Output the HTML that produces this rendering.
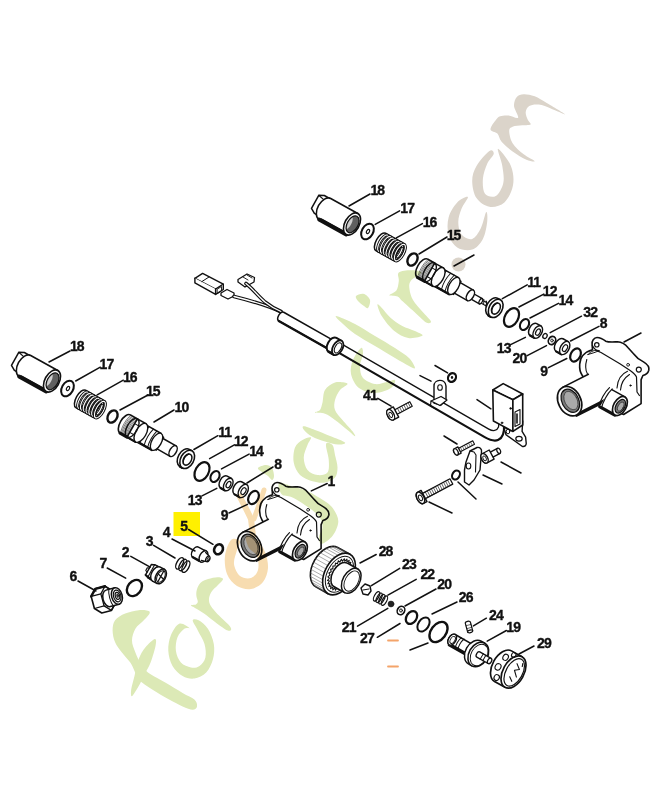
<!DOCTYPE html>
<html><head><meta charset="utf-8"><style>
html,body{margin:0;padding:0;background:#fff;}
body{width:652px;height:800px;overflow:hidden;position:relative;}
svg{position:absolute;left:0;top:0;}
text{font-family:"Liberation Sans",sans-serif;font-weight:bold;font-size:14px;text-anchor:middle;fill:#111;stroke:#111;stroke-width:0.35px;letter-spacing:-0.9px;}
.wm{mix-blend-mode:multiply;}
</style></head><body>
<svg width="652" height="800" viewBox="0 0 652 800">
<defs><clipPath id="clipR"><rect x="0" y="0" width="652" height="800"/></clipPath></defs>
<rect x="173.5" y="512" width="26.5" height="24" fill="#fff000"/>
<g stroke="#111" fill="none" stroke-linecap="round" stroke-linejoin="round">
<g transform="translate(52,381) rotate(29)">
<path d="M-43,-9 L-38,-11.5 L-29,-11.5 L-29,9 L-38,9 L-43,6 Z" fill="#fff" stroke-width="1.5" />
<path d="M-43,-9 L-34,-7 L-29,-9 M-34,-7 L-34,9" fill="none" stroke-width="1.1" />
<path d="M-31,-12 L0,-12 L0,12 L-31,12 A7.2,12 0 0 1 -31,-12 Z" fill="#fff" stroke-width="1.6" />
<path d="M-31,12 L0,12" fill="none" stroke-width="3.8" />
<path d="M-29,10.5 L-2,10.5" fill="none" stroke-width="1.5" />
<ellipse cx="0" cy="0" rx="7.2" ry="12" fill="#fff" stroke-width="1.6" />
<ellipse cx="0.6" cy="0" rx="5.4" ry="9.2" fill="#606060" stroke-width="1.2" />
<path d="M-2.5,-6 C-4.5,-2 -4.5,3 -2,7 C0,3 0,-2 -2.5,-6 Z" fill="#cfcfcf" stroke-width="0" />
</g>
<g transform="translate(67.5,388.5) rotate(29)">
<ellipse cx="0" cy="0" rx="5.6" ry="8.4" fill="#fff" stroke-width="2.0" />
</g>
<g transform="translate(68,388.5) rotate(29)">
<ellipse cx="0" cy="0" rx="1.4" ry="2.2" fill="none" stroke-width="1.1" />
</g>
<g transform="translate(90.3,404.3) rotate(29)">
<path d="M-11,-10 L11,-10 L11,10 L-11,10 A4.6,10 0 0 1 -11,-10 Z" fill="#fff" stroke-width="1.5" />
<ellipse cx="-8.24" cy="0" rx="3.68" ry="9.2" fill="none" stroke-width="3.0" />
<ellipse cx="-8.24" cy="0" rx="3.68" ry="9.2" fill="none" stroke-width="1.1" stroke="#fff"/>
<ellipse cx="-5.03" cy="0" rx="3.68" ry="9.2" fill="none" stroke-width="3.0" />
<ellipse cx="-5.03" cy="0" rx="3.68" ry="9.2" fill="none" stroke-width="1.1" stroke="#fff"/>
<ellipse cx="-1.83" cy="0" rx="3.68" ry="9.2" fill="none" stroke-width="3.0" />
<ellipse cx="-1.83" cy="0" rx="3.68" ry="9.2" fill="none" stroke-width="1.1" stroke="#fff"/>
<ellipse cx="1.38" cy="0" rx="3.68" ry="9.2" fill="none" stroke-width="3.0" />
<ellipse cx="1.38" cy="0" rx="3.68" ry="9.2" fill="none" stroke-width="1.1" stroke="#fff"/>
<ellipse cx="4.59" cy="0" rx="3.68" ry="9.2" fill="none" stroke-width="3.0" />
<ellipse cx="4.59" cy="0" rx="3.68" ry="9.2" fill="none" stroke-width="1.1" stroke="#fff"/>
<ellipse cx="7.79" cy="0" rx="3.68" ry="9.2" fill="none" stroke-width="3.0" />
<ellipse cx="7.79" cy="0" rx="3.68" ry="9.2" fill="none" stroke-width="1.1" stroke="#fff"/>
<ellipse cx="11" cy="0" rx="3.68" ry="9.2" fill="none" stroke-width="3.0" />
<ellipse cx="11" cy="0" rx="3.68" ry="9.2" fill="none" stroke-width="1.1" stroke="#fff"/>
<ellipse cx="11" cy="0" rx="2.53" ry="6" fill="none" stroke-width="1.0" />
</g>
<g transform="translate(112.5,416.5) rotate(29)">
<ellipse cx="0" cy="0" rx="4.6" ry="6.5" fill="#fff" stroke-width="2.4" />
</g>
<g transform="translate(300,-157)">
<g transform="translate(52,381) rotate(29)">
<path d="M-43,-9 L-38,-11.5 L-29,-11.5 L-29,9 L-38,9 L-43,6 Z" fill="#fff" stroke-width="1.5" />
<path d="M-43,-9 L-34,-7 L-29,-9 M-34,-7 L-34,9" fill="none" stroke-width="1.1" />
<path d="M-31,-12 L0,-12 L0,12 L-31,12 A7.2,12 0 0 1 -31,-12 Z" fill="#fff" stroke-width="1.6" />
<path d="M-31,12 L0,12" fill="none" stroke-width="3.8" />
<path d="M-29,10.5 L-2,10.5" fill="none" stroke-width="1.5" />
<ellipse cx="0" cy="0" rx="7.2" ry="12" fill="#fff" stroke-width="1.6" />
<ellipse cx="0.6" cy="0" rx="5.4" ry="9.2" fill="#606060" stroke-width="1.2" />
<path d="M-2.5,-6 C-4.5,-2 -4.5,3 -2,7 C0,3 0,-2 -2.5,-6 Z" fill="#cfcfcf" stroke-width="0" />
</g>
<g transform="translate(67.5,388.5) rotate(29)">
<ellipse cx="0" cy="0" rx="5.6" ry="8.4" fill="#fff" stroke-width="2.0" />
</g>
<g transform="translate(68,388.5) rotate(29)">
<ellipse cx="0" cy="0" rx="1.4" ry="2.2" fill="none" stroke-width="1.1" />
</g>
<g transform="translate(90.3,404.3) rotate(29)">
<path d="M-11,-10 L11,-10 L11,10 L-11,10 A4.6,10 0 0 1 -11,-10 Z" fill="#fff" stroke-width="1.5" />
<ellipse cx="-8.24" cy="0" rx="3.68" ry="9.2" fill="none" stroke-width="3.0" />
<ellipse cx="-8.24" cy="0" rx="3.68" ry="9.2" fill="none" stroke-width="1.1" stroke="#fff"/>
<ellipse cx="-5.03" cy="0" rx="3.68" ry="9.2" fill="none" stroke-width="3.0" />
<ellipse cx="-5.03" cy="0" rx="3.68" ry="9.2" fill="none" stroke-width="1.1" stroke="#fff"/>
<ellipse cx="-1.83" cy="0" rx="3.68" ry="9.2" fill="none" stroke-width="3.0" />
<ellipse cx="-1.83" cy="0" rx="3.68" ry="9.2" fill="none" stroke-width="1.1" stroke="#fff"/>
<ellipse cx="1.38" cy="0" rx="3.68" ry="9.2" fill="none" stroke-width="3.0" />
<ellipse cx="1.38" cy="0" rx="3.68" ry="9.2" fill="none" stroke-width="1.1" stroke="#fff"/>
<ellipse cx="4.59" cy="0" rx="3.68" ry="9.2" fill="none" stroke-width="3.0" />
<ellipse cx="4.59" cy="0" rx="3.68" ry="9.2" fill="none" stroke-width="1.1" stroke="#fff"/>
<ellipse cx="7.79" cy="0" rx="3.68" ry="9.2" fill="none" stroke-width="3.0" />
<ellipse cx="7.79" cy="0" rx="3.68" ry="9.2" fill="none" stroke-width="1.1" stroke="#fff"/>
<ellipse cx="11" cy="0" rx="3.68" ry="9.2" fill="none" stroke-width="3.0" />
<ellipse cx="11" cy="0" rx="3.68" ry="9.2" fill="none" stroke-width="1.1" stroke="#fff"/>
<ellipse cx="11" cy="0" rx="2.53" ry="6" fill="none" stroke-width="1.0" />
</g>
<g transform="translate(112.5,416.5) rotate(29)">
<ellipse cx="0" cy="0" rx="4.6" ry="6.5" fill="#fff" stroke-width="2.4" />
</g>
</g>
<g transform="translate(128.7,426) rotate(29.5)">
<path d="M36,-6 L51,-6 L51,6 L36,6 A3.3,6 0 0 1 36,-6 Z" fill="#fff" stroke-width="1.5" />
<ellipse cx="51" cy="0" rx="3.3" ry="6" fill="#fff" stroke-width="1.5" />
<path d="M32,-7.5 L36,-7.5 L36,7.5 L32,7.5 A3.75,7.5 0 0 1 32,-7.5 Z" fill="#fff" stroke-width="1.3" />
<path d="M14,-9.5 L32,-9.5 L32,9.5 L14,9.5 A4.75,9.5 0 0 1 14,-9.5 Z" fill="#fff" stroke-width="1.5" />
<path d="M14,9.5 L32,9.5" fill="none" stroke-width="2.4" />
<path d="M18,-9.5 C16.5,-4 16.5,4 18,9.5 M23,-9.5 C21.5,-4 21.5,4 23,9.5 M27,-9.5 C25.5,-4 25.5,4 27,9.5" fill="none" stroke-width="1.0" />
<ellipse cx="32" cy="0" rx="4.75" ry="9.5" fill="#fff" stroke-width="1.4" />
<path d="M4,-10.5 L14,-10.5 L14,10.5 L4,10.5 A5.25,10.5 0 0 1 4,-10.5 Z" fill="#fff" stroke-width="1.5" />
<path d="M4,10.5 L14,10.5" fill="none" stroke-width="2.0" />
<path d="M4,-5 L14,-5 M4,5 L14,5" fill="none" stroke-width="1.0" />
<ellipse cx="14" cy="0" rx="5.25" ry="10.5" fill="#fff" stroke-width="1.4" />
<path d="M-4,-10.5 L4,-10.5 L4,10.5 L-4,10.5 A5.25,10.5 0 0 1 -4,-10.5 Z" fill="#fff" stroke-width="1.6" />
<path d="M-4,10.5 L4,10.5" fill="none" stroke-width="3.0" />
<path d="M-3.5,-10.5 C-5.8,-5 -5.8,5 -3.5,10.5" fill="none" stroke-width="0.5" />
<path d="M-2.3,-10.5 C-4.6,-5 -4.6,5 -2.3,10.5" fill="none" stroke-width="0.5" />
<path d="M-1.1,-10.5 C-3.4,-5 -3.4,5 -1.1,10.5" fill="none" stroke-width="0.5" />
<path d="M0.1,-10.5 C-2.2,-5 -2.2,5 0.1,10.5" fill="none" stroke-width="0.5" />
<path d="M1.3,-10.5 C-1,-5 -1,5 1.3,10.5" fill="none" stroke-width="0.5" />
<path d="M2.5,-10.5 C0.2,-5 0.2,5 2.5,10.5" fill="none" stroke-width="0.5" />
<path d="M3.7,-10.5 C1.4,-5 1.4,5 3.7,10.5" fill="none" stroke-width="0.5" />
<path d="M4.9,-10.5 C2.6,-5 2.6,5 4.9,10.5" fill="none" stroke-width="0.5" />
<ellipse cx="4" cy="0" rx="5.25" ry="10.5" fill="none" stroke-width="1.4" />
</g>
<g transform="translate(297.3,-155.8)">
<g transform="translate(128.7,426) rotate(29.5)">
<path d="M62,-1.5 L70,-1.5 L70,1.5 L62,1.5 A0.75,1.5 0 0 1 62,-1.5 Z" fill="#fff" stroke-width="1.0" />
<ellipse cx="70" cy="0" rx="0.75" ry="1.5" fill="#fff" stroke-width="1.0" />
<path d="M63,-1.5 L65,-3 L67,1.5 M66,-1.5 L68,-3 L70,1.5" fill="none" stroke-width="0.9" />
<path d="M50,-3 L63,-3 L63,3 L50,3 A1.5,3 0 0 1 50,-3 Z" fill="#fff" stroke-width="1.3" />
<ellipse cx="63" cy="0" rx="1.5" ry="3" fill="#fff" stroke-width="1.3" />
<path d="M36,-6 L51,-6 L51,6 L36,6 A3.3,6 0 0 1 36,-6 Z" fill="#fff" stroke-width="1.5" />
<ellipse cx="51" cy="0" rx="3.3" ry="6" fill="#fff" stroke-width="1.5" />
<path d="M32,-7.5 L36,-7.5 L36,7.5 L32,7.5 A3.75,7.5 0 0 1 32,-7.5 Z" fill="#fff" stroke-width="1.3" />
<path d="M14,-9.5 L32,-9.5 L32,9.5 L14,9.5 A4.75,9.5 0 0 1 14,-9.5 Z" fill="#fff" stroke-width="1.5" />
<path d="M14,9.5 L32,9.5" fill="none" stroke-width="2.4" />
<path d="M18,-9.5 C16.5,-4 16.5,4 18,9.5 M23,-9.5 C21.5,-4 21.5,4 23,9.5 M27,-9.5 C25.5,-4 25.5,4 27,9.5" fill="none" stroke-width="1.0" />
<ellipse cx="32" cy="0" rx="4.75" ry="9.5" fill="#fff" stroke-width="1.4" />
<path d="M4,-10.5 L14,-10.5 L14,10.5 L4,10.5 A5.25,10.5 0 0 1 4,-10.5 Z" fill="#fff" stroke-width="1.5" />
<path d="M4,10.5 L14,10.5" fill="none" stroke-width="2.0" />
<path d="M4,-5 L14,-5 M4,5 L14,5" fill="none" stroke-width="1.0" />
<ellipse cx="14" cy="0" rx="5.25" ry="10.5" fill="#fff" stroke-width="1.4" />
<path d="M-4,-10.5 L4,-10.5 L4,10.5 L-4,10.5 A5.25,10.5 0 0 1 -4,-10.5 Z" fill="#fff" stroke-width="1.6" />
<path d="M-4,10.5 L4,10.5" fill="none" stroke-width="3.0" />
<path d="M-3.5,-10.5 C-5.8,-5 -5.8,5 -3.5,10.5" fill="none" stroke-width="0.5" />
<path d="M-2.3,-10.5 C-4.6,-5 -4.6,5 -2.3,10.5" fill="none" stroke-width="0.5" />
<path d="M-1.1,-10.5 C-3.4,-5 -3.4,5 -1.1,10.5" fill="none" stroke-width="0.5" />
<path d="M0.1,-10.5 C-2.2,-5 -2.2,5 0.1,10.5" fill="none" stroke-width="0.5" />
<path d="M1.3,-10.5 C-1,-5 -1,5 1.3,10.5" fill="none" stroke-width="0.5" />
<path d="M2.5,-10.5 C0.2,-5 0.2,5 2.5,10.5" fill="none" stroke-width="0.5" />
<path d="M3.7,-10.5 C1.4,-5 1.4,5 3.7,10.5" fill="none" stroke-width="0.5" />
<path d="M4.9,-10.5 C2.6,-5 2.6,5 4.9,10.5" fill="none" stroke-width="0.5" />
<ellipse cx="4" cy="0" rx="5.25" ry="10.5" fill="none" stroke-width="1.4" />
</g>
</g>
<g transform="translate(186.5,459) rotate(29)">
<path d="M-2.2,-9.8 L0.8,-9.8 L0.8,9.8 L-2.2,9.8 A6.47,9.8 0 0 1 -2.2,-9.8 Z" fill="#fff" stroke-width="1.6" />
<path d="M-2.2,9.8 L0.8,9.8" fill="none" stroke-width="2.2" />
<ellipse cx="0.8" cy="0" rx="6.5" ry="9.8" fill="#fff" stroke-width="1.6" />
<ellipse cx="1.1" cy="0" rx="3.9" ry="6" fill="#fff" stroke-width="1.5" />
<path d="M-0.5,-5.6 C-3,-2 -3,2 -0.5,5.6" fill="none" stroke-width="1.2" />
</g>
<g transform="translate(202,471.5) rotate(29)">
<ellipse cx="0" cy="0" rx="6.6" ry="10" fill="none" stroke-width="2.2" />
</g>
<g transform="translate(215,476.5) rotate(29)">
<ellipse cx="0" cy="0" rx="4.2" ry="5.8" fill="none" stroke-width="2.1" />
</g>
<g transform="translate(226.5,483.5) rotate(29)">
<path d="M-3,-6.8 L2,-6.8 L2,6.8 L-3,6.8 A4.08,6.8 0 0 1 -3,-6.8 Z" fill="#fff" stroke-width="1.5" />
<path d="M-3,6.8 L2,6.8" fill="none" stroke-width="2.2" />
<ellipse cx="2" cy="0" rx="4.08" ry="6.8" fill="#fff" stroke-width="1.4" />
<ellipse cx="2.3" cy="0" rx="2.04" ry="3.4" fill="#fff" stroke-width="1.2" />
</g>
<g transform="translate(241.5,490) rotate(29)">
<path d="M-4,-7.2 L2,-7.2 L2,7.2 L-4,7.2 A4.32,7.2 0 0 1 -4,-7.2 Z" fill="#fff" stroke-width="1.5" />
<path d="M-4,7.2 L2,7.2" fill="none" stroke-width="2.2" />
<ellipse cx="2" cy="0" rx="4.32" ry="7.2" fill="#fff" stroke-width="1.4" />
<ellipse cx="2.3" cy="0" rx="2.16" ry="3.6" fill="#fff" stroke-width="1.2" />
</g>
<g transform="translate(253.5,497.5) rotate(29)">
<ellipse cx="0" cy="0" rx="4.8" ry="7" fill="none" stroke-width="2.2" />
</g>
<g transform="translate(495,308) rotate(29)">
<path d="M-2.2,-9.8 L0.8,-9.8 L0.8,9.8 L-2.2,9.8 A6.47,9.8 0 0 1 -2.2,-9.8 Z" fill="#fff" stroke-width="1.6" />
<path d="M-2.2,9.8 L0.8,9.8" fill="none" stroke-width="2.2" />
<ellipse cx="0.8" cy="0" rx="6.5" ry="9.8" fill="#fff" stroke-width="1.6" />
<ellipse cx="1.1" cy="0" rx="3.9" ry="6" fill="#fff" stroke-width="1.5" />
<path d="M-0.5,-5.6 C-3,-2 -3,2 -0.5,5.6" fill="none" stroke-width="1.2" />
</g>
<g transform="translate(511.5,317.5) rotate(29)">
<ellipse cx="0" cy="0" rx="6.6" ry="10" fill="none" stroke-width="2.2" />
</g>
<g transform="translate(524.5,324.5) rotate(29)">
<ellipse cx="0" cy="0" rx="4.2" ry="5.8" fill="none" stroke-width="2.1" />
</g>
<g transform="translate(536,331) rotate(29)">
<path d="M-3,-6.8 L2,-6.8 L2,6.8 L-3,6.8 A4.08,6.8 0 0 1 -3,-6.8 Z" fill="#fff" stroke-width="1.5" />
<path d="M-3,6.8 L2,6.8" fill="none" stroke-width="2.2" />
<ellipse cx="2" cy="0" rx="4.08" ry="6.8" fill="#fff" stroke-width="1.4" />
<ellipse cx="2.3" cy="0" rx="2.04" ry="3.4" fill="#fff" stroke-width="1.2" />
</g>
<g transform="translate(545,336) rotate(29)">
<ellipse cx="0" cy="0" rx="2" ry="2.6" fill="none" stroke-width="1.3" />
</g>
<g transform="translate(552,340.5) rotate(29)">
<ellipse cx="0" cy="0" rx="3.5" ry="4.3" fill="#fff" stroke-width="1.7" />
</g>
<ellipse cx="552" cy="340.5" rx="1.3" ry="1.5" fill="none" stroke-width="0.9" />
<g transform="translate(563,347) rotate(29)">
<path d="M-4,-7.2 L2,-7.2 L2,7.2 L-4,7.2 A4.32,7.2 0 0 1 -4,-7.2 Z" fill="#fff" stroke-width="1.5" />
<path d="M-4,7.2 L2,7.2" fill="none" stroke-width="2.2" />
<ellipse cx="2" cy="0" rx="4.32" ry="7.2" fill="#fff" stroke-width="1.4" />
<ellipse cx="2.3" cy="0" rx="2.16" ry="3.6" fill="#fff" stroke-width="1.2" />
</g>
<g transform="translate(575.5,355) rotate(29)">
<ellipse cx="0" cy="0" rx="4.8" ry="7" fill="none" stroke-width="2.2" />
</g>
<g transform="translate(0,0)">
<path d="M272.1,489.5 C271.5,486 274,482.5 277,482.5 C279.5,482.5 283,484 285.7,486.2 C289,487.5 293,487 297.5,486.8 C301,487 305,489 308.1,492.7 L314,499.2 C316,502 318.5,504.5 323.5,506.9 C327,509 329.5,512 328.8,515.2 C328,518 325,520 322.9,520.5 L321.1,524.6 L321.1,548.6 L303.6,559.5 L280,549 L262,520 C260,517 259.5,512 259.7,509.2 C260,502 265,497 272.5,494.8 Z" fill="#fff" stroke-width="1.6" />
<path d="M272.3,490.2 C273.5,493.5 277,496 281,497.5 L299.9,508.7 L310.5,515.7 C313,517.5 315.5,519.5 316.5,522 L317,537 L319.4,540.5" fill="none" stroke-width="1.2" />
<path d="M297,533 C297.5,525 301,519 307.5,516.2 M300.5,535 C301,528 304,523 309.5,519.5" fill="none" stroke-width="1.1" />
<path d="M266.8,504.5 C265.2,510 265.3,515 267.4,518.7" fill="none" stroke-width="1.1" />
<path d="M268,499.5 C271,496 275,494.6 279.5,495.6 C276,497 272,498.5 268,499.5 Z" fill="none" stroke-width="1.0" />
<ellipse cx="276.8" cy="489.8" rx="2.2" ry="2.2" fill="#fff" stroke-width="1.2" />
<ellipse cx="318.8" cy="514.6" rx="2.5" ry="2.5" fill="#fff" stroke-width="1.2" />
<ellipse cx="308.1" cy="509.8" rx="1.4" ry="1.4" fill="#fff" stroke-width="0.9" />
<ellipse cx="310.5" cy="530.5" rx="0.8" ry="0.8" fill="#111" stroke-width="0.5" />
<g transform="translate(249.6,546.2) rotate(-27)">
<path d="M0,-15.5 L30,-15.5 L30,15.5 L0,15.5 Z" fill="#fff" stroke-width="0" />
<path d="M0,-15.5 L29,-15.5" fill="none" stroke-width="1.5" />
<path d="M0,15.5 L33,15.5" fill="none" stroke-width="3.6" />
<ellipse cx="0" cy="0" rx="11.2" ry="15.5" fill="#fff" stroke-width="1.7" />
<ellipse cx="0.8" cy="0" rx="8.4" ry="12.3" fill="#7a7a7a" stroke-width="1.2" />
<ellipse cx="1.5" cy="0" rx="6.2" ry="9.8" fill="#a9a9a9" stroke-width="0.5" />
</g>
<g transform="translate(299.9,551) rotate(29)">
<path d="M-17,-10.4 L0,-10.4 L0,10.4 L-17,10.4 Z" fill="#fff" stroke-width="0" />
<path d="M-15,-10.4 L0,-10.4" fill="none" stroke-width="1.4" />
<path d="M-17,10.4 L0,10.4" fill="none" stroke-width="3.2" />
<path d="M-15,-11.2 C-17,-5 -17,5 -15,11.2 M-18,-11 C-20,-5 -20,5 -18,11" fill="none" stroke-width="1.2" />
<ellipse cx="0" cy="0" rx="6.3" ry="10.4" fill="#fff" stroke-width="1.7" />
<ellipse cx="0.5" cy="0" rx="4.4" ry="7.4" fill="#777" stroke-width="1.2" />
<ellipse cx="1" cy="0" rx="2.6" ry="5" fill="#aaa" stroke-width="0.6" />
</g>
</g>
<g clip-path="url(#clipR)">
<g transform="translate(320,-145)">
<path d="M272.1,489.5 C271.5,486 274,482.5 277,482.5 C279.5,482.5 283,484 285.7,486.2 C289,487.5 293,487 297.5,486.8 C301,487 305,489 308.1,492.7 L314,499.2 C316,502 318.5,504.5 323.5,506.9 C327,509 329.5,512 328.8,515.2 C328,518 325,520 322.9,520.5 L321.1,524.6 L321.1,548.6 L303.6,559.5 L280,549 L262,520 C260,517 259.5,512 259.7,509.2 C260,502 265,497 272.5,494.8 Z" fill="#fff" stroke-width="1.6" />
<path d="M272.3,490.2 C273.5,493.5 277,496 281,497.5 L299.9,508.7 L310.5,515.7 C313,517.5 315.5,519.5 316.5,522 L317,537 L319.4,540.5" fill="none" stroke-width="1.2" />
<path d="M297,533 C297.5,525 301,519 307.5,516.2 M300.5,535 C301,528 304,523 309.5,519.5" fill="none" stroke-width="1.1" />
<path d="M266.8,504.5 C265.2,510 265.3,515 267.4,518.7" fill="none" stroke-width="1.1" />
<path d="M268,499.5 C271,496 275,494.6 279.5,495.6 C276,497 272,498.5 268,499.5 Z" fill="none" stroke-width="1.0" />
<ellipse cx="276.8" cy="489.8" rx="2.2" ry="2.2" fill="#fff" stroke-width="1.2" />
<ellipse cx="318.8" cy="514.6" rx="2.5" ry="2.5" fill="#fff" stroke-width="1.2" />
<ellipse cx="308.1" cy="509.8" rx="1.4" ry="1.4" fill="#fff" stroke-width="0.9" />
<ellipse cx="310.5" cy="530.5" rx="0.8" ry="0.8" fill="#111" stroke-width="0.5" />
<g transform="translate(249.6,546.2) rotate(-27)">
<path d="M0,-15.5 L30,-15.5 L30,15.5 L0,15.5 Z" fill="#fff" stroke-width="0" />
<path d="M0,-15.5 L29,-15.5" fill="none" stroke-width="1.5" />
<path d="M0,15.5 L33,15.5" fill="none" stroke-width="3.6" />
<ellipse cx="0" cy="0" rx="11.2" ry="15.5" fill="#fff" stroke-width="1.7" />
<ellipse cx="0.8" cy="0" rx="8.4" ry="12.3" fill="#7a7a7a" stroke-width="1.2" />
<ellipse cx="1.5" cy="0" rx="6.2" ry="9.8" fill="#a9a9a9" stroke-width="0.5" />
</g>
<g transform="translate(299.9,551) rotate(29)">
<path d="M-17,-10.4 L0,-10.4 L0,10.4 L-17,10.4 Z" fill="#fff" stroke-width="0" />
<path d="M-15,-10.4 L0,-10.4" fill="none" stroke-width="1.4" />
<path d="M-17,10.4 L0,10.4" fill="none" stroke-width="3.2" />
<path d="M-15,-11.2 C-17,-5 -17,5 -15,11.2 M-18,-11 C-20,-5 -20,5 -18,11" fill="none" stroke-width="1.2" />
<ellipse cx="0" cy="0" rx="6.3" ry="10.4" fill="#fff" stroke-width="1.7" />
<ellipse cx="0.5" cy="0" rx="4.4" ry="7.4" fill="#777" stroke-width="1.2" />
<ellipse cx="1" cy="0" rx="2.6" ry="5" fill="#aaa" stroke-width="0.6" />
</g>
</g>
</g>
<g transform="translate(218.5,549.3) rotate(29)">
<ellipse cx="0" cy="0" rx="4.2" ry="5.2" fill="none" stroke-width="2.6" />
</g>
<g transform="translate(203.5,556.5) rotate(29)">
<path d="M-9,-5.8 L-2,-5.8 L-2,5.8 L-9,5.8 A3.48,5.8 0 0 1 -9,-5.8 Z" fill="#fff" stroke-width="1.5" />
<path d="M-9,5.8 L-2,5.8" fill="none" stroke-width="2.4" />
<path d="M-2,-6.2 L0,-6.2 L0,6.2 L-2,6.2 Z" fill="#fff" stroke-width="1.3" />
<ellipse cx="0" cy="0" rx="3.7" ry="6.2" fill="#fff" stroke-width="1.4" />
<path d="M0,-4.5 L5,-3 L5,3 L0,4.5" fill="#fff" stroke-width="1.3" />
<ellipse cx="5" cy="0" rx="1.9" ry="3" fill="#fff" stroke-width="1.3" />
<ellipse cx="5.3" cy="0" rx="0.9" ry="1.5" fill="none" stroke-width="0.9" />
</g>
<g transform="translate(182.8,565) rotate(29)">
<ellipse cx="-3.5" cy="0" rx="3" ry="6.3" fill="#fff" stroke-width="1.4" />
<ellipse cx="0" cy="0" rx="3" ry="6.3" fill="none" stroke-width="1.4" />
<ellipse cx="3.5" cy="0" rx="3" ry="6.3" fill="none" stroke-width="1.4" />
</g>
<g transform="translate(159,575.5) rotate(29)">
<path d="M-12,-6 L-8,-7.5 L-3,-7.5 L-3,7.5 L-8,7.5 L-12,6 Z" fill="#fff" stroke-width="1.4" />
<path d="M-12,-2 L-14,-1 L-14,2 L-12,3 M-9,-7.5 L-9,7.5 M-6,-7.5 L-6,7.5" fill="none" stroke-width="1.1" />
<path d="M-12,6 L-3,7.5" fill="none" stroke-width="2.0" />
<path d="M-3,-8 L2,-8 L2,8 L-3,8 A4.8,8 0 0 1 -3,-8 Z" fill="#fff" stroke-width="1.5" />
<ellipse cx="2" cy="0" rx="4.8" ry="8" fill="#fff" stroke-width="1.5" />
<ellipse cx="2.2" cy="0" rx="3.6" ry="6.3" fill="none" stroke-width="1.0" />
<path d="M-1.5,-1 L5.5,1 M2,-6.3 L2,6.3" fill="none" stroke-width="1.3" />
</g>
<g transform="translate(134.4,588) rotate(39)">
<ellipse cx="0" cy="0" rx="6.6" ry="8.9" fill="none" stroke-width="2.4" />
</g>
<g transform="translate(116.9,596) rotate(-15)">
<path d="M-19,12.5 L-24.95,6.25 L-24.95,-6.25 L-19,-12.5 L-9,-12.5 L-3.05,-6.25 L-3.05,6.25 L-9,12.5 Z" fill="#fff" stroke-width="1.6" />
<path d="M-3.05,6.25 L-9,12.5 L-14.95,6.25 L-14.95,-6.25 L-9,-12.5 L-3.05,-6.25 Z" fill="none" stroke-width="1.3" />
<path d="M-14.95,6.25 L-24.95,6.25" fill="none" stroke-width="1.2" />
<path d="M-14.95,-6.25 L-24.95,-6.25" fill="none" stroke-width="1.2" />
<path d="M-9,-12.5 L-19,-12.5" fill="none" stroke-width="1.2" />
<path d="M-24.95,-6.25 L-19,-12.5 L-9,-12.5" fill="none" stroke-width="2.4" />
<path d="M-9,-8.5 L0,-8.5 L0,8.5 L-9,8.5 A5.27,8.5 0 0 1 -9,-8.5 Z" fill="#fff" stroke-width="1.5" />
<path d="M-6,-8.8 C-8,-4 -8,4 -6,8.8" fill="none" stroke-width="1.0" />
<ellipse cx="0" cy="0" rx="5.3" ry="8.5" fill="#fff" stroke-width="1.5" />
<ellipse cx="0.3" cy="0" rx="3.7" ry="6" fill="none" stroke-width="1.2" />
<ellipse cx="0.6" cy="0" rx="2.2" ry="3.6" fill="#fff" stroke-width="1.2" />
<ellipse cx="0.8" cy="0" rx="1" ry="1.8" fill="#444" stroke-width="0.6" />
</g>
<g transform="translate(339,574) rotate(29)">
<path d="M-14,-22.5 L0,-22.5 L0,22.5 L-14,22.5 A14,22.5 0 0 1 -14,-22.5 Z" fill="#fff" stroke-width="1.6" />
<path d="M-15.22,22.41 L-2.22,22.41" fill="none" stroke-width="0.5" stroke="#666"/>
<path d="M-17.62,21.73 L-4.62,21.73" fill="none" stroke-width="0.5" stroke="#666"/>
<path d="M-19.92,20.39 L-6.92,20.39" fill="none" stroke-width="0.5" stroke="#666"/>
<path d="M-22.03,18.43 L-9.03,18.43" fill="none" stroke-width="0.5" stroke="#666"/>
<path d="M-23.9,15.91 L-10.9,15.91" fill="none" stroke-width="0.5" stroke="#666"/>
<path d="M-25.47,12.91 L-12.47,12.91" fill="none" stroke-width="0.5" stroke="#666"/>
<path d="M-26.69,9.51 L-13.69,9.51" fill="none" stroke-width="0.5" stroke="#666"/>
<path d="M-27.52,5.82 L-14.52,5.82" fill="none" stroke-width="0.5" stroke="#666"/>
<path d="M-27.95,1.96 L-14.95,1.96" fill="none" stroke-width="0.5" stroke="#666"/>
<path d="M-27.95,-1.96 L-14.95,-1.96" fill="none" stroke-width="0.5" stroke="#666"/>
<path d="M-27.52,-5.82 L-14.52,-5.82" fill="none" stroke-width="0.5" stroke="#666"/>
<path d="M-26.69,-9.51 L-13.69,-9.51" fill="none" stroke-width="0.5" stroke="#666"/>
<path d="M-25.47,-12.91 L-12.47,-12.91" fill="none" stroke-width="0.5" stroke="#666"/>
<path d="M-23.9,-15.91 L-10.9,-15.91" fill="none" stroke-width="0.5" stroke="#666"/>
<path d="M-22.03,-18.43 L-9.03,-18.43" fill="none" stroke-width="0.5" stroke="#666"/>
<path d="M-19.92,-20.39 L-6.92,-20.39" fill="none" stroke-width="0.5" stroke="#666"/>
<path d="M-17.62,-21.73 L-4.62,-21.73" fill="none" stroke-width="0.5" stroke="#666"/>
<path d="M-15.22,-22.41 L-2.22,-22.41" fill="none" stroke-width="0.5" stroke="#666"/>
<ellipse cx="0" cy="0" rx="14" ry="22.5" fill="#fff" stroke-width="1.6" />
<ellipse cx="0.5" cy="0" rx="12" ry="19.5" fill="none" stroke-width="1.0" />
<path d="M11.54,0 L9.92,1.75 L11.23,4.07 L9.41,5.14 L10.33,7.9 L8.4,8.24 L8.89,11.27 L6.96,10.85 L6.99,13.99 L5.18,12.84 L4.74,15.9 L3.15,14.08 L2.27,16.88 L1,14.5 L-0.27,16.88 L-1.15,14.08 L-2.74,15.9 L-3.18,12.84 L-4.99,13.99 L-4.96,10.85 L-6.89,11.27 L-6.4,8.24 L-8.33,7.9 L-7.41,5.14 L-9.23,4.07 L-7.92,1.75 L-9.54,-0 L-7.92,-1.75 L-9.23,-4.07 L-7.41,-5.14 L-8.33,-7.9 L-6.4,-8.24 L-6.89,-11.27 L-4.96,-10.85 L-4.99,-13.99 L-3.18,-12.84 L-2.74,-15.9 L-1.15,-14.08 L-0.27,-16.88 L1,-14.5 L2.27,-16.88 L3.15,-14.08 L4.74,-15.9 L5.18,-12.84 L6.99,-13.99 L6.96,-10.85 L8.89,-11.27 L8.4,-8.24 L10.33,-7.9 L9.41,-5.14 L11.23,-4.07 L9.92,-1.75 Z" fill="none" stroke-width="1.1" />
<path d="M2,-13.5 L14,-13.5 L14,13.5 L2,13.5 A8.37,13.5 0 0 1 2,-13.5 Z" fill="#fff" stroke-width="1.5" />
<ellipse cx="14" cy="0" rx="8.4" ry="13.5" fill="#fff" stroke-width="1.5" />
<ellipse cx="14.5" cy="0" rx="6.5" ry="11" fill="none" stroke-width="0.9" />
</g>
<path d="M361,588 L365,584 L370,586 L371,591 L368,595 L363,594 Z" fill="#fff" stroke-width="1.4" />
<path d="M363,590 L369,589" fill="none" stroke-width="1" />
<g transform="translate(380.5,598.5) rotate(29)">
<ellipse cx="-4.5" cy="0" rx="2.2" ry="5.2" fill="none" stroke-width="1.2" />
<ellipse cx="-1.5" cy="0" rx="2.2" ry="5.2" fill="none" stroke-width="1.2" />
<ellipse cx="1.5" cy="0" rx="2.2" ry="5.2" fill="none" stroke-width="1.2" />
<ellipse cx="4.5" cy="0" rx="2.2" ry="5.2" fill="none" stroke-width="1.2" />
</g>
<ellipse cx="391" cy="604" rx="3" ry="3" fill="#222" stroke-width="0.5" />
<g transform="translate(401,610.5) rotate(29)">
<ellipse cx="0" cy="0" rx="3.6" ry="4.4" fill="#fff" stroke-width="1.6" />
</g>
<ellipse cx="401" cy="610.5" rx="1.4" ry="1.6" fill="none" stroke-width="1" />
<g transform="translate(411.5,617.5) rotate(34)">
<ellipse cx="0" cy="0" rx="5" ry="7" fill="none" stroke-width="2.3" />
</g>
<g transform="translate(423.5,624.5) rotate(34)">
<ellipse cx="0" cy="0" rx="5.2" ry="7.8" fill="none" stroke-width="2.0" />
</g>
<g transform="translate(438.5,632) rotate(37)">
<ellipse cx="0" cy="0" rx="7.5" ry="11.3" fill="none" stroke-width="2.4" />
</g>
<line x1="388" y1="640.5" x2="398" y2="640.5" stroke="#f4a46a" stroke-width="1.8"/>
<line x1="388" y1="666.5" x2="398" y2="666.5" stroke="#f4a46a" stroke-width="1.8"/>
<g transform="translate(469,627) rotate(75)">
<path d="M-4.5,-2.6 L4.5,-2.6 L4.5,2.6 L-4.5,2.6 A1.3,2.6 0 0 1 -4.5,-2.6 Z" fill="#fff" stroke-width="1.2" />
<ellipse cx="4.5" cy="0" rx="1.3" ry="2.6" fill="#fff" stroke-width="1.2" />
<path d="M-2,-2.6 L-2,2.6 M1,-2.6 L1,2.6" fill="none" stroke-width="0.6" />
</g>
<g transform="translate(452.2,639.7) rotate(29.6)">
<path d="M0,-6 L27,-6 L27,6 L0,6 A3.72,6 0 0 1 0,-6 Z" fill="#fff" stroke-width="1.5" />
<path d="M0,6 L27,6" fill="none" stroke-width="3.0" />
<path d="M4,5 L24,5" fill="none" stroke-width="2.2" />
<path d="M7,-6.3 C5.5,-3 5.5,3 7,6.3 M10,-6.5 C8.5,-3 8.5,3 10,6.5" fill="none" stroke-width="1.0" />
<ellipse cx="0" cy="0" rx="3.7" ry="6" fill="#fff" stroke-width="1.4" />
<ellipse cx="0.5" cy="0" rx="2.2" ry="3.8" fill="none" stroke-width="0.9" />
<path d="M26,-13 L30,-13 L30,13 L26,13 A9.36,13 0 0 1 26,-13 Z" fill="#fff" stroke-width="1.5" />
<ellipse cx="30" cy="0" rx="9.4" ry="13" fill="#fff" stroke-width="1.6" />
<ellipse cx="31" cy="0" rx="8" ry="11.5" fill="none" stroke-width="0.9" />
<path d="M30,-3 L43,-3 L43,3 L30,3 A1.8,3 0 0 1 30,-3 Z" fill="#fff" stroke-width="1.3" />
<path d="M34,-3.3 L34,3.3 M37,-3.3 L37,3.3" fill="none" stroke-width="1.0" />
<ellipse cx="43" cy="0" rx="1.9" ry="3" fill="#fff" stroke-width="1.3" />
</g>
<g transform="translate(513.5,672) rotate(29)">
<path d="M-12,-17.5 L0,-17.5 L0,17.5 L-12,17.5 A10.5,17.5 0 0 1 -12,-17.5 Z" fill="#fff" stroke-width="1.7" />
<ellipse cx="0" cy="0" rx="10.5" ry="17.5" fill="#fff" stroke-width="1.7" />
<ellipse cx="0.8" cy="0" rx="8.3" ry="15" fill="none" stroke-width="1.2" />
<path d="M-1,-9 L4,-5 L0,-2 L5,3 M-1,6 L3,9 M4,-12 L5,-9" fill="none" stroke-width="1.1" />
<ellipse cx="-14" cy="-9" rx="2.6" ry="3.2" fill="none" stroke-width="1.1" />
<ellipse cx="-16" cy="3" rx="2.8" ry="3.4" fill="none" stroke-width="1.1" />
<ellipse cx="-12" cy="13" rx="2.6" ry="3" fill="none" stroke-width="1.1" />
<ellipse cx="-8" cy="-15" rx="2.2" ry="2.4" fill="none" stroke-width="1.1" />
</g>
<path d="M194.9,278.3 L202.6,273.4 L223.3,284.1 L215.6,289 Z" fill="#fff" stroke-width="1.4" />
<path d="M194.9,278.3 L194.9,282.9 L215.6,294.4 L215.6,289" fill="#fff" stroke-width="1.4" />
<path d="M215.6,294.4 L223.3,289.5 L223.3,284.1" fill="#fff" stroke-width="1.4" />
<path d="M202,281.5 L209,277" fill="none" stroke-width="1.0" />
<path d="M217.5,289 L221.5,286.5 L221.5,291 L217.5,293.5 Z" fill="none" stroke-width="0.9" />
<path d="M221,293 L227,289.5 L234,293 L234,296 L228,299 L221,295.5 Z" fill="#fff" stroke-width="1.3" />
<path d="M238,279.5 L247,274 L254.5,277.5 L254,282 L245,287 L238,282 Z" fill="#fff" stroke-width="1.3" />
<path d="M243,277 L248,280 M247,275 L252,278" fill="none" stroke-width="0.9" />
<path d="M234,296.5 C252,301 267,305 281,312" fill="none" stroke-width="3.6" />
<path d="M234,296.5 C252,301 267,305 281,312" fill="none" stroke-width="1.3" stroke="#fff"/>
<path d="M246,283.5 C253,289 258,296 265,302 C270,306 276,309.5 281,311.5" fill="none" stroke-width="3.6" />
<path d="M246,283.5 C253,289 258,296 265,302 C270,306 276,309.5 281,311.5" fill="none" stroke-width="1.3" stroke="#fff"/>
<g transform="translate(279.5,315.6) rotate(29.5)">
<path d="M2,-5 L58,-5 L58,5 L2,5 C-1.5,5 -2,-5 2,-5 Z" fill="#fff" stroke-width="1.5" />
<path d="M2,5 L58,5" fill="none" stroke-width="2.4" />
</g>
<path d="M339.25,342.6 L488.75,429.1 C493,431.5 497,431 498.5,427 L499,423 L504,424 C504.5,431 503,438 498,440 C493,442 488,439 484.25,436.9 L334.75,350.4 Z" fill="#fff" stroke-width="0" />
<path d="M339.25,342.6 L488.75,429.1 C493,431.5 497,431 498.5,427 L499,423" fill="none" stroke-width="1.3" />
<path d="M334.75,350.4 L484.25,436.9 C488,439 493,442 498,440 C503,438 504.5,431 504,424" fill="none" stroke-width="2.2" />
<g transform="translate(335.5,346.5) rotate(29.5)">
<path d="M-3.5,-8 L2.5,-8 L2.5,8 L-3.5,8 A4.8,8 0 0 1 -3.5,-8 Z" fill="#fff" stroke-width="2.0" />
<path d="M-3.5,8 L2.5,8" fill="none" stroke-width="2.6" />
<ellipse cx="2.5" cy="0" rx="4.8" ry="8" fill="#fff" stroke-width="1.8" />
<ellipse cx="2.8" cy="0" rx="3" ry="5.5" fill="#fff" stroke-width="1.1" />
</g>
<path d="M434,399 L434,386 C434,379 445,378 446,386 L446,400 L441,405 L434,403 Z" fill="#fff" stroke-width="1.4" />
<ellipse cx="440" cy="387.5" rx="2.3" ry="2.8" fill="#fff" stroke-width="1.1" />
<path d="M431,401 L441,396.5 L447,400 L440,405.5 Z" fill="#fff" stroke-width="1.3" />
<path d="M431,401 L430.5,406 L437,409.5" fill="none" stroke-width="1.1" />
<g transform="translate(452,377.5) rotate(29)">
<ellipse cx="0" cy="0" rx="3.8" ry="4.6" fill="#fff" stroke-width="2.2" />
</g>
<ellipse cx="452" cy="377.5" rx="1.2" ry="1.4" fill="#111" stroke-width="0" />
<g transform="translate(396,412) rotate(-28)">
<path d="M0,-2.6 L17,-2.6 L17,2.6 L0,2.6 A1.3,2.6 0 0 1 0,-2.6 Z" fill="#fff" stroke-width="1.2" />
<path d="M3.0,-2.6 L3.0,2.6" fill="none" stroke-width="0.6" />
<path d="M5.4,-2.6 L5.4,2.6" fill="none" stroke-width="0.6" />
<path d="M7.8,-2.6 L7.8,2.6" fill="none" stroke-width="0.6" />
<path d="M10.2,-2.6 L10.2,2.6" fill="none" stroke-width="0.6" />
<path d="M12.6,-2.6 L12.6,2.6" fill="none" stroke-width="0.6" />
<path d="M15.0,-2.6 L15.0,2.6" fill="none" stroke-width="0.6" />
<path d="M-6,-5.8 L0,-5.8 L0,5.8 L-6,5.8 A3.19,5.8 0 0 1 -6,-5.8 Z" fill="#fff" stroke-width="1.4" />
<ellipse cx="-6" cy="0" rx="3.2" ry="5.8" fill="#fff" stroke-width="1.4" />
<ellipse cx="-6" cy="0" rx="1.6" ry="2.8" fill="none" stroke-width="0.9" />
</g>
<path d="M503.7,427 L506,434.8 L522.1,446.3 C524.5,447 526.5,445.5 526.2,443 L525.6,437.1 L522.1,431.4 L522.7,421 L512.9,431.4 Z" fill="#fff" stroke-width="1.4" />
<ellipse cx="519" cy="438.8" rx="3.2" ry="2.4" fill="#fff" stroke-width="1.2" />
<ellipse cx="508" cy="431.5" rx="1.8" ry="2.4" fill="none" stroke-width="1.0" />
<path d="M492.8,390 L503.2,383.6 L522.7,394 L512.9,399.7 Z" fill="#fff" stroke-width="1.6" />
<path d="M492.8,390 L493.4,421 L512.9,431.4 L512.9,399.7 Z" fill="#fff" stroke-width="1.6" />
<path d="M512.9,399.7 L522.7,394 L522.7,425 L512.9,431.4 Z" fill="#fff" stroke-width="1.6" />
<path d="M515,412 L520,409.5 L520,424 L515,426.5 Z" fill="none" stroke-width="1.1" />
<path d="M517,414 L517,423" fill="none" stroke-width="1.6" />
<ellipse cx="510.6" cy="408.4" rx="0.9" ry="0.9" fill="#111" stroke-width="0.6" />
<ellipse cx="502" cy="422.8" rx="0.9" ry="0.9" fill="#111" stroke-width="0.6" />
<g transform="translate(459.5,450) rotate(-28)">
<path d="M0,-1.9 L16,-1.9 L16,1.9 L0,1.9 A0.95,1.9 0 0 1 0,-1.9 Z" fill="#fff" stroke-width="1.1" />
<path d="M2.0,-1.9 L2.0,1.9" fill="none" stroke-width="0.5" />
<path d="M4.3,-1.9 L4.3,1.9" fill="none" stroke-width="0.5" />
<path d="M6.6,-1.9 L6.6,1.9" fill="none" stroke-width="0.5" />
<path d="M8.899999999999999,-1.9 L8.899999999999999,1.9" fill="none" stroke-width="0.5" />
<path d="M11.2,-1.9 L11.2,1.9" fill="none" stroke-width="0.5" />
<path d="M13.5,-1.9 L13.5,1.9" fill="none" stroke-width="0.5" />
<path d="M-4,-3.5 L0,-3.5 L0,3.5 L-4,3.5 A1.93,3.5 0 0 1 -4,-3.5 Z" fill="#fff" stroke-width="1.3" />
<ellipse cx="-4" cy="0" rx="2" ry="3.5" fill="#fff" stroke-width="1.3" />
</g>
<path d="M470,451 L477,447.5 C480,447 482,449 481.5,452 L480,470 L474,480 L469,485 L464.5,482 L464.5,470 L466,462 Z" fill="#fff" stroke-width="1.4" />
<path d="M470,451 L474,452 L476,455 L475.5,472" fill="none" stroke-width="1.1" />
<ellipse cx="468.5" cy="466" rx="2.3" ry="3" fill="#fff" stroke-width="1.1" />
<g transform="translate(489,456) rotate(-28)">
<path d="M3,-2.8 L11,-2.8 L11,2.8 L3,2.8 A1.68,2.8 0 0 1 3,-2.8 Z" fill="#fff" stroke-width="1.3" />
<ellipse cx="11" cy="0" rx="1.68" ry="2.8" fill="#fff" stroke-width="1.3" />
<path d="M-5,-5.2 L3,-5.2 L3,5.2 L-5,5.2 A3.12,5.2 0 0 1 -5,-5.2 Z" fill="#fff" stroke-width="1.4" />
<ellipse cx="-5" cy="0" rx="3" ry="5.2" fill="#fff" stroke-width="1.4" />
<ellipse cx="-5" cy="0" rx="1.5" ry="2.6" fill="none" stroke-width="0.9" />
</g>
<g transform="translate(456,475) rotate(29)">
<ellipse cx="0" cy="0" rx="3.6" ry="4.8" fill="#fff" stroke-width="2.1" />
</g>
<g transform="translate(424,496) rotate(-28)">
<path d="M0,-3 L31,-3 L31,3 L0,3 A1.5,3 0 0 1 0,-3 Z" fill="#fff" stroke-width="1.2" />
<path d="M3.0,-3 L3.0,3" fill="none" stroke-width="0.6" />
<path d="M5.3,-3 L5.3,3" fill="none" stroke-width="0.6" />
<path d="M7.6,-3 L7.6,3" fill="none" stroke-width="0.6" />
<path d="M9.899999999999999,-3 L9.899999999999999,3" fill="none" stroke-width="0.6" />
<path d="M12.2,-3 L12.2,3" fill="none" stroke-width="0.6" />
<path d="M14.5,-3 L14.5,3" fill="none" stroke-width="0.6" />
<path d="M16.799999999999997,-3 L16.799999999999997,3" fill="none" stroke-width="0.6" />
<path d="M19.099999999999998,-3 L19.099999999999998,3" fill="none" stroke-width="0.6" />
<path d="M21.4,-3 L21.4,3" fill="none" stroke-width="0.6" />
<path d="M23.7,-3 L23.7,3" fill="none" stroke-width="0.6" />
<path d="M26.0,-3 L26.0,3" fill="none" stroke-width="0.6" />
<path d="M28.299999999999997,-3 L28.299999999999997,3" fill="none" stroke-width="0.6" />
<path d="M-4,-6.3 L0,-6.3 L0,6.3 L-4,6.3 A3.47,6.3 0 0 1 -4,-6.3 Z" fill="#fff" stroke-width="1.5" />
<ellipse cx="-4" cy="0" rx="3.5" ry="6.3" fill="#fff" stroke-width="1.5" />
<ellipse cx="-4" cy="0" rx="1.8" ry="3" fill="none" stroke-width="1.0" />
</g>
<line x1="349" y1="206" x2="370" y2="194" stroke-width="1.5"/>
<line x1="375.2" y1="224.4" x2="399.6" y2="210.9" stroke-width="1.5"/>
<line x1="396.3" y1="237.9" x2="422.4" y2="223.6" stroke-width="1.5"/>
<line x1="419" y1="254" x2="447" y2="237" stroke-width="1.5"/>
<line x1="454" y1="266" x2="474" y2="255" stroke-width="1.5"/>
<line x1="502.4" y1="298.7" x2="527.2" y2="284.9" stroke-width="1.5"/>
<line x1="518.9" y1="307" x2="543.8" y2="294.1" stroke-width="1.5"/>
<line x1="530" y1="318" x2="558.5" y2="303.3" stroke-width="1.5"/>
<line x1="550.2" y1="332.7" x2="581.5" y2="316.2" stroke-width="1.5"/>
<line x1="570.5" y1="341" x2="599" y2="326.3" stroke-width="1.5"/>
<line x1="510.6" y1="344.7" x2="525.4" y2="337.3" stroke-width="1.5"/>
<line x1="527.2" y1="355.7" x2="546.5" y2="345.6" stroke-width="1.5"/>
<line x1="548.4" y1="367.7" x2="566.8" y2="358.5" stroke-width="1.5"/>
<line x1="624" y1="342" x2="641" y2="333" stroke-width="1.5"/>
<line x1="377.8" y1="398.3" x2="391.1" y2="406.1" stroke-width="1.5"/>
<line x1="435" y1="365.5" x2="447.6" y2="372.9" stroke-width="1.5"/>
<line x1="420" y1="375.6" x2="431" y2="381.2" stroke-width="1.5"/>
<line x1="477" y1="399.6" x2="490.9" y2="408.8" stroke-width="1.5"/>
<line x1="444" y1="436" x2="457" y2="444" stroke-width="1.5"/>
<line x1="501" y1="462" x2="521" y2="473" stroke-width="1.5"/>
<line x1="483" y1="475" x2="502" y2="484" stroke-width="1.5"/>
<line x1="458" y1="482" x2="476" y2="499" stroke-width="1.5"/>
<line x1="429" y1="502" x2="452" y2="513" stroke-width="1.5"/>
<line x1="49" y1="362" x2="70" y2="351" stroke-width="1.5"/>
<line x1="75.7" y1="381" x2="100.3" y2="367.2" stroke-width="1.5"/>
<line x1="97.2" y1="394.8" x2="123.3" y2="380.2" stroke-width="1.5"/>
<line x1="120" y1="410" x2="148" y2="395" stroke-width="1.5"/>
<line x1="154" y1="422" x2="174" y2="410" stroke-width="1.5"/>
<line x1="193.9" y1="449.5" x2="217.9" y2="435.7" stroke-width="1.5"/>
<line x1="209.6" y1="458.7" x2="234.4" y2="444.9" stroke-width="1.5"/>
<line x1="221.5" y1="468.9" x2="249.1" y2="454.1" stroke-width="1.5"/>
<line x1="247" y1="483" x2="273" y2="467" stroke-width="1.5"/>
<line x1="202" y1="495.8" x2="216.8" y2="488.4" stroke-width="1.5"/>
<line x1="229" y1="513" x2="247.5" y2="504.4" stroke-width="1.5"/>
<line x1="311.3" y1="490.9" x2="327.2" y2="483.5" stroke-width="1.5"/>
<line x1="188.6" y1="529.5" x2="213" y2="544.3" stroke-width="1.5"/>
<line x1="172" y1="539" x2="195" y2="551" stroke-width="1.5"/>
<line x1="153.6" y1="545.3" x2="175" y2="558" stroke-width="1.5"/>
<line x1="130.8" y1="556.3" x2="150.2" y2="567.2" stroke-width="1.5"/>
<line x1="107.2" y1="568" x2="125.7" y2="578.2" stroke-width="1.5"/>
<line x1="78" y1="581" x2="96" y2="591" stroke-width="1.5"/>
<line x1="360" y1="563" x2="376.2" y2="554.5" stroke-width="1.5"/>
<line x1="371.4" y1="585.6" x2="399.7" y2="568.3" stroke-width="1.5"/>
<line x1="387.9" y1="595.2" x2="416.2" y2="579.3" stroke-width="1.5"/>
<line x1="405" y1="606" x2="436" y2="589" stroke-width="1.5"/>
<line x1="357.5" y1="626.2" x2="387.8" y2="608.3" stroke-width="1.5"/>
<line x1="377.3" y1="637.3" x2="400" y2="623.5" stroke-width="1.5"/>
<line x1="432" y1="614" x2="457" y2="602" stroke-width="1.5"/>
<line x1="410" y1="650" x2="428" y2="643" stroke-width="1.5"/>
<line x1="473.4" y1="625.9" x2="486.4" y2="618.2" stroke-width="1.5"/>
<line x1="487.2" y1="641.2" x2="506.4" y2="630.5" stroke-width="1.5"/>
<line x1="519" y1="654" x2="534" y2="646" stroke-width="1.5"/>
<text x="377.3" y="195.3">18</text>
<text x="407.2" y="213.05">17</text>
<text x="429.6" y="226.55">16</text>
<text x="453.6" y="240.05">15</text>
<text x="533.65" y="286.7">11</text>
<text x="549.75" y="295.9">12</text>
<text x="565.4" y="305.1">14</text>
<text x="590.25" y="317.1">32</text>
<text x="603.15" y="328.1">8</text>
<text x="503.75" y="353">13</text>
<text x="519.4" y="362.65">20</text>
<text x="543.8" y="376">9</text>
<text x="369.95" y="399.6">41</text>
<text x="76.85" y="351.2">18</text>
<text x="106.4" y="368.9">17</text>
<text x="129.8" y="381.9">16</text>
<text x="152.8" y="395.7">15</text>
<text x="181.5" y="412.25">10</text>
<text x="224.75" y="437.1">11</text>
<text x="240.85" y="446.3">12</text>
<text x="256.05" y="455.5">14</text>
<text x="277.7" y="468.85">8</text>
<text x="194.75" y="504.95">13</text>
<text x="224.2" y="519.7">9</text>
<text x="330.95" y="485.9">1</text>
<text x="166.25" y="537.3">4</text>
<text x="149.15" y="545.9">3</text>
<text x="125.3" y="556.7">2</text>
<text x="102.95" y="568.1">7</text>
<text x="73" y="580.75">6</text>
<text x="385.55" y="556.2">28</text>
<text x="409" y="569.3">23</text>
<text x="427.3" y="579.35">22</text>
<text x="444.2" y="589.3">20</text>
<text x="348.75" y="631.95">21</text>
<text x="366.9" y="642.8">27</text>
<text x="465.7" y="602.2">26</text>
<text x="496" y="619.5">24</text>
<text x="513.25" y="631.75">19</text>
<text x="544" y="648.2">29</text>
</g>
<text x="183.7" y="530.6">5</text>
<g class="wm">
<path d="M149.7,611.9 C148.85,610.22 142.78,609.92 138.7,610.2 C134.62,610.48 129.13,611.92 125.2,613.6 C121.27,615.28 117.2,617.5 115.1,620.3 C113,623.1 112.6,626.75 112.6,630.4 C112.6,634.05 113.55,638.53 115.1,642.2 C116.65,645.87 119.37,649.02 121.9,652.4 C124.43,655.78 128.2,659.42 130.3,662.5 C132.4,665.58 133.1,668.08 134.5,670.9 C135.9,673.72 135.75,676.3 138.7,679.4 C141.65,682.5 147.13,686.13 152.2,689.5 C157.27,692.87 164.03,696.78 169.1,699.6 C174.17,702.42 178.67,704.72 182.6,706.4 C186.53,708.08 190.3,709.7 192.7,709.7 C195.1,709.7 196.72,708.08 197,706.4 C197.28,704.72 196.8,701.85 194.4,699.6 C192,697.35 187.38,695.72 182.6,692.9 C177.82,690.08 171.03,685.8 165.7,682.7 C160.37,679.6 154.53,677.1 150.6,674.3 C146.67,671.5 144.63,669.55 142.1,665.9 C139.57,662.25 137.08,656.62 135.4,652.4 C133.72,648.18 132,644.55 132,640.6 C132,636.65 133.43,632.08 135.4,628.7 C137.37,625.32 141.42,623.1 143.8,620.3 C146.18,617.5 150.55,613.58 149.7,611.9 Z" fill="#dce9b6"/>
<path d="M154.8,638.9 C156.48,638.62 156.3,641.67 155.6,645.6 C154.9,649.53 152.57,657.45 150.6,662.5 C148.63,667.55 145.78,671.97 143.8,675.9 C141.82,679.83 140.67,682.72 138.7,686.1 C136.73,689.48 133.25,695.63 132,696.2 C130.75,696.77 130.78,692.87 131.2,689.5 C131.62,686.13 133.25,681.07 134.5,676 C135.75,670.93 136.87,663.88 138.7,659.1 C140.53,654.32 142.82,650.67 145.5,647.3 C148.18,643.93 153.12,639.18 154.8,638.9 Z" fill="#dce9b6"/>
<path d="M189.4,627.9 C188.55,627.07 182.3,622.43 179.2,623.7 C176.1,624.97 172.62,631 170.8,635.5 C168.98,640 168.02,645.63 168.3,650.7 C168.58,655.77 170.12,661.68 172.5,665.9 C174.88,670.12 178.95,673.9 182.6,676 C186.25,678.1 190.47,679.07 194.4,678.5 C198.33,677.93 203.1,675.83 206.2,672.6 C209.3,669.37 211.73,663.88 213,659.1 C214.27,654.32 214.65,648.97 213.8,643.9 C212.95,638.83 210.43,632.63 207.9,628.7 C205.37,624.77 201.13,621.7 198.6,620.3 C196.07,618.9 192.83,618.62 192.7,620.3 C192.57,621.98 195.83,626.47 197.8,630.4 C199.77,634.33 203.23,639.4 204.5,643.9 C205.77,648.4 206.23,653.73 205.4,657.4 C204.57,661.07 201.9,664.22 199.5,665.9 C197.1,667.58 194.1,668.07 191,667.5 C187.9,666.93 183.42,665.3 180.9,662.5 C178.38,659.7 176.47,654.92 175.9,650.7 C175.33,646.48 176.1,640.87 177.5,637.2 C178.9,633.53 182.32,630.25 184.3,628.7 C186.28,627.15 190.25,628.73 189.4,627.9 Z" fill="#dce9b6"/>
<path d="M223.1,579.1 C223.1,577.7 220,577.2 217.5,577.2 C215,577.2 210.92,578.17 208.1,579.1 C205.28,580.03 202.47,581.08 200.6,582.8 C198.73,584.52 197.6,587.22 196.9,589.4 C196.2,591.58 196.25,593.87 196.4,595.9 C196.55,597.93 197.88,600.18 197.8,601.6 C197.72,603.02 197.07,603.78 195.9,604.4 C194.73,605.02 190.63,604.53 190.8,605.3 C190.97,606.07 194.63,607.6 196.9,609 C199.17,610.4 201.75,611.82 204.4,613.7 C207.05,615.58 210.15,618.27 212.8,620.3 C215.45,622.33 217.8,624.18 220.3,625.9 C222.8,627.62 226,629.97 227.8,630.6 C229.6,631.23 230.78,630.48 231.1,629.7 C231.42,628.92 231.03,627.62 229.7,625.9 C228.37,624.18 225.45,621.73 223.1,619.4 C220.75,617.07 217.78,614.4 215.6,611.9 C213.42,609.4 211.08,606.75 210,604.4 C208.92,602.05 208.78,600 209.1,597.8 C209.42,595.6 210.5,593.23 211.9,591.2 C213.3,589.17 215.63,587.62 217.5,585.6 C219.37,583.58 223.1,580.5 223.1,579.1 Z" fill="#dce9b6"/>
<path d="M231,540 C228.5,542.5 225.67,550.33 225,556 C224.33,561.67 225,569 227,574 C229,579 233,583.5 237,586 C241,588.5 246.67,589.67 251,589 C255.33,588.33 260.17,585.5 263,582 C265.83,578.5 267.67,573 268,568 C268.33,563 266.83,556.67 265,552 C263.17,547.33 260.17,542.67 257,540 C253.83,537.33 247.33,534.67 246,536 C244.67,537.33 247.17,544.67 249,548 C250.83,551.33 255.5,552.33 257,556 C258.5,559.67 259,566.33 258,570 C257,573.67 254,577 251,578 C248,579 242.83,578.33 240,576 C237.17,573.67 234.5,568.33 234,564 C233.5,559.67 236,553.83 237,550 C238,546.17 241,542.67 240,541 C239,539.33 233.5,537.5 231,540 Z" fill="#f7dcb0"/>
<path d="M240,497 C244,505 248,512 251,519 L253,536" fill="none" stroke="#f7dcb0" stroke-width="6" stroke-linecap="round" stroke-linejoin="round"/>
<path d="M264,490 C261,500 257,510 254,519" fill="none" stroke="#f7dcb0" stroke-width="5" stroke-linecap="round" stroke-linejoin="round"/>
<path d="M303.75,426.25 C305.58,426.25 310.62,428.38 315,430 C319.38,431.62 325,433.92 330,436 C335,438.08 343.67,441.08 345,442.5 C346.33,443.92 341.33,444.67 338,444.5 C334.67,444.33 329.33,442.83 325,441.5 C320.67,440.17 315.5,438.42 312,436.5 C308.5,434.58 305.38,431.71 304,430 C302.62,428.29 301.92,426.25 303.75,426.25 Z" fill="#dce9b6"/>
<path d="M311,437.5 C310.17,436.67 305.17,438.33 302.5,440 C299.83,441.67 296.46,443.75 295,447.5 C293.54,451.25 292.92,457.92 293.75,462.5 C294.58,467.08 296.88,471.88 300,475 C303.12,478.12 308.33,480 312.5,481.25 C316.67,482.5 321.25,483.12 325,482.5 C328.75,481.88 332.92,480 335,477.5 C337.08,475 337.5,471.25 337.5,467.5 C337.5,463.75 335.83,458.75 335,455 C334.17,451.25 334,446.83 332.5,445 C331,443.17 326.62,441.5 326,444 C325.38,446.5 328.5,455.25 328.75,460 C329,464.75 329.38,470 327.5,472.5 C325.62,475 320.83,475.42 317.5,475 C314.17,474.58 309.79,472.92 307.5,470 C305.21,467.08 303.75,461.67 303.75,457.5 C303.75,453.33 306.29,448.33 307.5,445 C308.71,441.67 311.83,438.33 311,437.5 Z" fill="#dce9b6"/>
<path d="M279,483 C280.62,481.63 286.57,484.6 291.4,486 C296.23,487.4 302.23,488.73 308,491.4 C313.77,494.07 321.67,498.9 326,502 C330.33,505.1 331.95,506.7 334,510 C336.05,513.3 338.5,517.53 338.3,521.8 C338.1,526.07 335.55,531.92 332.8,535.6 C330.05,539.28 324.1,543.67 321.8,543.9 C319.5,544.13 318.88,539.77 319,537 C319.12,534.23 322.5,530.75 322.5,527.3 C322.5,523.85 321.88,519.98 319,516.3 C316.12,512.62 309.8,508.42 305.2,505.2 C300.6,501.98 295.32,498.83 291.4,497 C287.48,495.17 283.77,496.53 281.7,494.2 C279.63,491.87 277.38,484.37 279,483 Z" fill="#dce9b6"/>
<path d="M258,468 C258.67,466.83 263.67,465 266,465 C268.33,465 270.67,466.17 272,468 C273.33,469.83 274,474 274,476 C274,478 273,480 272,480 C271,480 269.67,477.33 268,476 C266.33,474.67 263.67,473.33 262,472 C260.33,470.67 257.33,469.17 258,468 Z" fill="#dce9b6"/>
<path d="M347.5,383.75 C346.67,382.5 338.75,381.46 335,382.5 C331.25,383.54 327.08,386.67 325,390 C322.92,393.33 323.33,399.17 322.5,402.5 C321.67,405.83 321.25,408.33 320,410 C318.75,411.67 314.17,411.88 315,412.5 C315.83,413.12 321.67,412.5 325,413.75 C328.33,415 331.25,417.29 335,420 C338.75,422.71 344.17,427.29 347.5,430 C350.83,432.71 354.17,436.04 355,436.25 C355.83,436.46 354.58,433.96 352.5,431.25 C350.42,428.54 345.42,423.54 342.5,420 C339.58,416.46 336.25,413.33 335,410 C333.75,406.67 334.17,403.33 335,400 C335.83,396.67 337.92,392.71 340,390 C342.08,387.29 348.33,385 347.5,383.75 Z" fill="#dce9b6"/>
<path d="M336,316 C338,316 348.5,320.67 355,324 C361.5,327.33 368.33,332 375,336 C381.67,340 389.33,344.33 395,348 C400.67,351.67 405.67,354.67 409,358 C412.33,361.33 415,366.67 415,368 C415,369.33 412.33,367.67 409,366 C405.67,364.33 400.67,361.33 395,358 C389.33,354.67 381.67,350 375,346 C368.33,342 360.33,337.67 355,334 C349.67,330.33 346.17,327 343,324 C339.83,321 334,316 336,316 Z" fill="#dce9b6"/>
<path d="M361,348 C359.33,349 354.67,355.67 353,360 C351.33,364.33 350,369.33 351,374 C352,378.67 355,384.83 359,388 C363,391.17 369.67,393 375,393 C380.33,393 387.67,390.17 391,388 C394.33,385.83 395.67,381 395,380 C394.33,379 390.33,381.33 387,382 C383.67,382.67 379,384.67 375,384 C371,383.33 365.5,381 363,378 C360.5,375 360,370 360,366 C360,362 362.83,357 363,354 C363.17,351 362.67,347 361,348 Z" fill="#dce9b6"/>
<path d="M356,296 C357,294.83 361.67,293.33 364,294 C366.33,294.67 369.33,297.67 370,300 C370.67,302.33 369,307 368,308 C367,309 365.67,307.17 364,306 C362.33,304.83 359.33,302.67 358,301 C356.67,299.33 355,297.17 356,296 Z" fill="#dce9b6"/>
<path d="M377.4,304.7 C377.4,306.1 379.33,312.25 382.1,316.6 C384.87,320.95 389.63,327.23 394,330.8 C398.37,334.37 403.55,337.2 408.3,338 C413.05,338.8 421.52,336.8 422.5,335.6 C423.48,334.4 417.57,332.4 414.2,330.8 C410.83,329.2 406.25,328.18 402.3,326 C398.35,323.82 393.87,320.67 390.5,317.7 C387.13,314.73 384.28,310.37 382.1,308.2 C379.92,306.03 377.4,303.3 377.4,304.7 Z" fill="#dce9b6"/>
<path d="M398.8,272.6 C400.78,270.82 406.93,270.2 410.7,270.2 C414.47,270.2 421.4,270.82 421.4,272.6 C421.4,274.38 412.68,278.13 410.7,280.9 C408.72,283.67 409.12,286.03 409.5,289.2 C409.88,292.37 410.83,296.13 413,299.9 C415.17,303.67 419.52,308.23 422.5,311.8 C425.48,315.37 430.3,319.52 430.9,321.3 C431.5,323.08 428.88,324.08 426.1,322.5 C423.32,320.92 418.17,315.37 414.2,311.8 C410.23,308.23 405.07,303.67 402.3,301.1 C399.53,298.53 399.77,297.38 397.6,296.4 C395.43,295.42 389.5,296.2 389.3,295.2 C389.1,294.2 394.82,292.78 396.4,290.4 C397.98,288.02 398.4,283.87 398.8,280.9 C399.2,277.93 396.82,274.38 398.8,272.6 Z" fill="#dce9b6"/>
<circle cx="458.5" cy="264.5" r="7" fill="#dbd4ca"/>
<path d="M467.9,197 C467.18,195.93 460.42,199 457.2,202.4 C453.98,205.8 450.03,212.03 448.6,217.4 C447.17,222.77 447.17,229.58 448.6,234.6 C450.03,239.62 453.27,245 457.2,247.5 C461.13,250 467.92,251.03 472.2,249.6 C476.48,248.17 480.4,243.55 482.9,238.9 C485.4,234.25 486.65,226.18 487.2,221.7 C487.75,217.22 487.27,210.92 486.2,212 C485.13,213.08 483.13,223.72 480.8,228.2 C478.47,232.68 475.42,237.83 472.2,238.9 C468.98,239.97 463.82,237.47 461.5,234.6 C459.18,231.73 458.3,226 458.3,221.7 C458.3,217.4 459.9,212.92 461.5,208.8 C463.1,204.68 468.62,198.07 467.9,197 Z" fill="#dbd4ca"/>
<path d="M489.4,150.9 C486.53,152.88 479.37,160.9 476.5,165.9 C473.63,170.9 472.2,175.53 472.2,180.9 C472.2,186.27 473.63,193.8 476.5,198.1 C479.37,202.4 484.75,205.98 489.4,206.7 C494.05,207.42 500.47,205.98 504.4,202.4 C508.33,198.82 511.92,191.28 513,185.2 C514.08,179.12 513.4,171.98 510.9,165.9 C508.4,159.82 499.43,148.7 498,148.7 C496.57,148.7 501.42,160.18 502.3,165.9 C503.18,171.62 504.38,177.98 503.3,183 C502.22,188.02 498.85,194.2 495.8,196 C492.75,197.8 487.15,196.67 485,193.8 C482.85,190.93 482.53,183.82 482.9,178.8 C483.27,173.78 485.4,167.83 487.2,163.7 C489,159.57 493.33,156.13 493.7,154 C494.07,151.87 492.27,148.92 489.4,150.9 Z" fill="#dbd4ca"/>
<path d="M490.5,129.4 C490.27,127.1 494.38,121.98 496,119.8 C497.62,117.62 498.12,117 500.2,116.3 C502.28,115.6 505.52,115.37 508.5,115.6 C511.48,115.83 517.18,119.3 518.1,117.7 C519.02,116.1 514.22,109.45 514,106 C513.78,102.55 515.18,98.97 516.8,97 C518.42,95.03 520.72,94.32 523.7,94.2 C526.68,94.08 530.8,94.8 534.7,96.3 C538.6,97.8 542.03,100.22 547.1,103.2 C552.17,106.18 564.4,113.28 565.1,114.2 C565.8,115.12 555.68,110.3 551.3,108.7 C546.92,107.1 542.48,105.05 538.8,104.6 C535.12,104.15 531.38,104.73 529.2,106 C527.02,107.27 525.93,109.9 525.7,112.2 C525.47,114.5 526.98,117.73 527.8,119.8 C528.62,121.87 531.52,123.68 530.6,124.6 C529.68,125.52 525.3,124.95 522.3,125.3 C519.3,125.65 514.78,125.78 512.6,126.7 C510.42,127.62 509.2,128.05 509.2,130.8 C509.2,133.55 510.18,139.28 512.6,143.2 C515.02,147.12 520.02,151.3 523.7,154.3 C527.38,157.3 534.25,160.28 534.7,161.2 C535.15,162.12 530.08,161.42 526.4,159.8 C522.72,158.18 516.73,154.5 512.6,151.5 C508.47,148.5 504.13,144.78 501.6,141.8 C499.07,138.82 499.25,135.67 497.4,133.6 C495.55,131.53 490.73,131.7 490.5,129.4 Z" fill="#dbd4ca"/>
</g>
</svg>
</body></html>
